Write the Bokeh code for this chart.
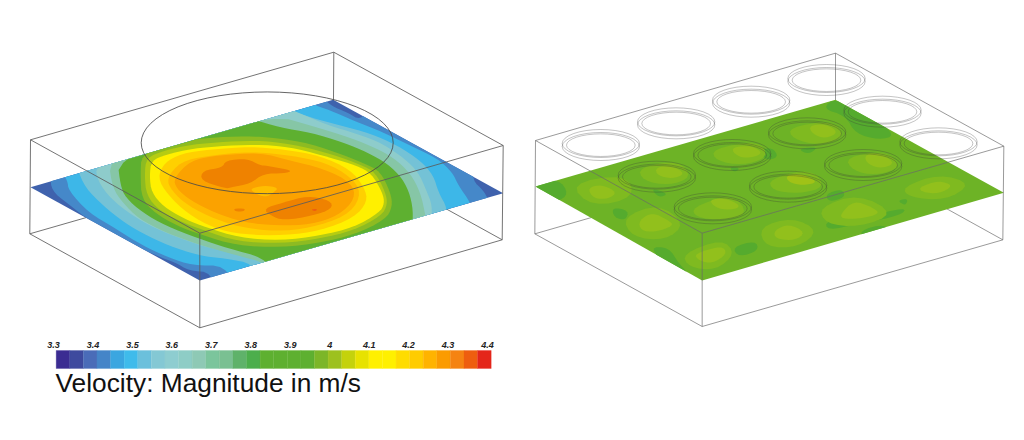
from bokeh.plotting import figure
from bokeh.embed import file_html
from bokeh.resources import INLINE
from bokeh.core.properties import value
from bokeh.models import ColumnDataSource

# ---- colour bar
bar_colors = ["#3b2c92","#3e4a9e","#4a6cb8","#4585c8","#3ba6e0","#3fbbeb","#6bc0dc","#84c8d4",
              "#8ecdd0","#8ecdc6","#8ec9b5","#7bc59c","#7ac092","#5fb26a","#4cae4c","#5eb030",
              "#5eb030","#5eb030","#5eb030","#7cb628","#9dc11f","#c4d20c","#e7e200","#fff000",
              "#fff000","#ffdc00","#ffcc00","#ffb300","#fb9b00","#f58312","#ee5e0f","#e4261a"]
tick_values = [3.3,3.4,3.5,3.6,3.7,3.8,3.9,4.0,4.1,4.2,4.3,4.4]
tick_labels = ["3.3","3.4","3.5","3.6","3.7","3.8","3.9","4","4.1","4.2","4.3","4.4"]
caption = "Velocity: Magnitude in m/s"

# ---- left panel geometry (pixel positions)
L_top = [(30,139.3),(333.3,51.7),(502.7,145),(199.3,232.7),(30,139.3)]
L_vert = [[(30,139.3),(29.3,233.3)],[(502.7,145),(501.7,239.3)],[(199.3,232.7),(199.3,327.3)]]
L_bottom = [(29.3,233.3),(199.3,327.3),(501.7,239.3)]
L_hidden = [[(29.3,233.3),(332.7,146),(501.7,239.3)],[(333.3,51.7),(332.7,146)]]
L_plane = [(332.7,99.3),(30,186.7),(199.3,280),(502.7,192.7)]
L_circle = (266.7,142.3,252,101.7)

# contour loops, outermost to innermost: (colour, points)
L_base = "#3f62ad"
L_loops = [
 ("#4588c9",[(50,175),(51,190),(67,203),(92,222),(122,238),(155,255),(175,262),(188,270),(212,272),(215,300),(500,215),(487,198),(483,190),(472,180),(473,160),(370,105),(360,120),(347,112),(330,105),(320,95),(100,150)]),
 ("#3db7e8",[(60,170),(67,180),(68,190),(88,212),(115,228),(142,245),(168,257),(192,265),(225,265),(235,290),(475,220),(470,202),(458,185),(452,172),(437,158),(410,145),(383,132),(353,120),(330,110),(310,103),(300,95),(100,150)]),
 ("#74c2d6",[(75,160),(82,183),(97,200),(118,218),(142,233),(168,245),(198,255),(225,258),(253,263),(258,285),(445,225),(447,208),(438,192),(433,175),(420,160),(397,145),(370,133),(340,125),(310,117),(285,108),(120,150)]),
 ("#8ecccb",[(95,165),(97,180),(110,198),(132,215),(155,228),(180,238),(210,248),(240,252),(262,258),(268,280),(430,225),(432,205),(425,188),(418,172),(404,158),(382,143),(356,133),(328,125),(300,113),(280,105),(130,150)]),
 ("#86c6a6",[(108,160),(112,187),(122,202),(138,218),(165,232),(198,244),(233,254),(268,263),(275,280),(428,235),(425,215),(420,192),(410,173),(393,157),(370,145),(343,135),(310,125),(275,115),(150,140)]),
 ("#5eb030",[(117,160),(120,185),(125,197),(142,212),(165,225),(198,238),(228,248),(263,257),(275,275),(410,235),(413,215),(410,195),(402,178),(387,163),(367,152),(343,142),(310,132),(280,127),(250,118),(200,120)]),
 ("#8dbb22",[(141,155),(140,173),(141,198),(155,213),(176,225),(200,234),(236,245),(280,247),(321,242),(354,234),(385,219),(392,206),(390,192),(380,171),(364,163),(334,151),(301,141),(263,136),(227,136),(189,139),(161,146)]),
 ("#b5cc12",[(146,157),(144,174),(146,195),(159,210),(180,221),(204,230),(237,241),(280,243),(320,238),(353,230),(381,215),(387,204),(385,192),(375,172),(360,164),(332,154),(299,145),(263,140),(227,141),(191,144),(164,150)]),
 ("#fff000",[(151,160),(149,175),(151,192),(163,206),(183,218),(206,227),(238,237),(280,240),(320,235),(353,227),(379,212),(384,203),(382,192),(371,173),(356,165),(329,157),(297,148),(263,144),(227,145),(192,148),(166,154)]),
 ("#ffd000",[(157,177),(164,162),(181,153),(209,149),(250,146),(284,149),(319,155),(350,169),(364,187),(367,201),(354,217),(320,230),(284,235),(242,234),(214,228),(187,213),(167,194)]),
 ("#ffb900",[(166,178),(180,161),(208,155),(250,151),(291,155),(325,162),(350,176),(361,192),(351,212),(320,225),(284,231),(246,228),(215,219),(187,205),(171,190)]),
 ("#fba200",[(173,178),(190,160),(215,155),(260,152),(289,160),(323,168),(351,182),(355,198),(338,215),(310,224),(278,225),(243,222),(214,212),(190,200),(176,188)]),
]
L_spots = [
 ("#ef8200",[(202,170),(222,167),(225,160),(247,158),(260,165),(265,165),(293,170),(283,173),(263,173),(250,183),(230,187),(225,188),(200,180)]),
 ("#ef8200",[(263,208),(283,202),(307,195),(330,200),(332,208),(313,215),(283,220),(270,215)]),
 ("#ffbe00",[(250,188),(263,185),(278,187),(273,192),(265,197),(253,192)]),
 ("#ef8200",[(233,208),(245,208),(243,211),(235,211)]),
 ("#ee5e0f",[(310,209),(317,208),(315,211)]),
]

# ---- right panel geometry (crop coordinates)
R_top = [(30,270),(930,8),(1435,287),(530,548),(30,270)]
R_vert = [[(30,270),(28,550)],[(1435,287),(1432,568)],[(530,548),(530,828)]]
R_bottom = [(28,550),(530,828),(1432,568)]
R_hidden = [[(28,550),(930,290),(1432,568)],[(930,8),(930,290)]]
R_plane = [(930,148),(30,408),(530,690),(1435,427)]

well_x = [226,394,562,452,620,788,677,845,1013,903,1071,1239]
well_y = [285,380,475,220,315,410,155,250,345,90,185,280]

R_dark = "#55ab2e"
R_mid = "#7fba20"
R_light = "#92c01c"
R_base = "#6db326"
R_patches = [
 (R_dark,[(20,400),(100,385),(130,430),(95,455),(60,440)]),
 (R_dark,[(930,140),(1050,205),(1110,255),(1060,268),(990,250),(960,195),(890,175)]),
 (R_dark,[(370,590),(430,590),(460,640),(510,690),(430,650)]),
 (R_dark,[(375,412),(430,430),(400,442)]),
 (R_dark,[(610,350),(645,352),(628,366)]),
 (R_dark,[(815,295),(880,288),(850,312)]),
 (R_dark,[(1115,450),(1148,444),(1140,466)]),
 (R_dark,[(700,300),(740,290),(760,320),(720,330)]),
 (R_dark,[(900,430),(950,415),(960,440),(910,455)]),
 (R_dark,[(260,470),(310,480),(300,510),(265,500)]),
 (R_dark,[(620,590),(690,570),(700,600),(640,620)]),
 (R_dark,[(1000,540),(1080,520),(1090,550),(1020,570)]),
 (R_dark,[(905,540),(1000,520),(1125,495),(1145,470),(1010,500),(900,510)]),
 (R_mid,[(130,400),(300,370),(330,440),(200,470)]),
 (R_mid,[(290,500),(400,460),(480,520),(420,570),(320,560)]),
 (R_mid,[(880,470),(1000,430),(1110,490),(1000,530),(900,520)]),
 (R_mid,[(700,530),(800,500),(880,540),(820,590),(720,590)]),
 (R_mid,[(1130,410),(1240,370),(1340,400),(1260,450),(1150,440)]),
 (R_mid,[(470,610),(590,565),(630,610),(570,660),(490,650)]),
 (R_mid,[(340,350),(460,330),(500,380),(430,405),(350,390)]),
 (R_mid,[(560,295),(700,270),(730,320),(650,345),(570,330)]),
 (R_mid,[(790,230),(920,210),(960,260),(880,285),(800,265)]),
 (R_mid,[(960,320),(1080,300),(1130,350),(1050,375),(980,360)]),
 (R_mid,[(730,385),(860,355),(900,410),(820,430),(740,420)]),
 (R_mid,[(500,470),(620,430),(670,490),(590,510),(510,500)]),
 (R_light,[(185,412),(230,402),(275,425),(250,445),(205,445)]),
 (R_light,[(340,510),(380,485),(430,510),(445,525),(390,545),(345,540)]),
 (R_light,[(945,490),(985,450),(1040,470),(1065,490),(1000,505),(950,505)]),
 (R_light,[(745,540),(790,520),(840,545),(810,570),(750,565)]),
 (R_light,[(1180,410),(1240,390),(1285,405),(1240,430),(1190,425)]),
 (R_light,[(505,610),(590,585),(605,610),(560,640),(520,630)]),
 (R_light,[(390,350),(440,345),(480,370),(440,385),(395,375)]),
 (R_light,[(620,290),(680,285),(715,310),(660,325),(625,310)]),
 (R_light,[(850,225),(900,220),(940,245),(900,265),(860,250)]),
 (R_light,[(1020,310),(1070,310),(1110,340),(1060,355),(1020,335)]),
 ("#a0c217",[(780,375),(830,370),(880,395),(830,405),(790,395)]),
 (R_light,[(555,445),(610,445),(650,470),(600,480),(560,465)]),
]


def smooth(pts, n=2):
    for _ in range(n):
        out = []
        for i, (x0, y0) in enumerate(pts):
            x1, y1 = pts[(i + 1) % len(pts)]
            out += [(0.75*x0 + 0.25*x1, 0.75*y0 + 0.25*y1), (0.25*x0 + 0.75*x1, 0.25*y0 + 0.75*y1)]
        pts = out
    return pts


def clip(pts, poly):
    # Sutherland-Hodgman against a convex polygon
    area = sum(poly[i][0]*poly[(i+1) % len(poly)][1] - poly[(i+1) % len(poly)][0]*poly[i][1] for i in range(len(poly)))
    sgn = 1 if area > 0 else -1
    for i in range(len(poly)):
        ax, ay = poly[i]
        bx, by = poly[(i + 1) % len(poly)]
        side = lambda p: sgn*((bx-ax)*(p[1]-ay) - (by-ay)*(p[0]-ax))
        res = []
        for j in range(len(pts)):
            c, d = pts[j], pts[(j + 1) % len(pts)]
            sc, sd = side(c), side(d)
            if sc >= 0:
                res.append(c)
            if (sc >= 0) != (sd >= 0):
                t = sc/(sc - sd)
                res.append((c[0] + t*(d[0]-c[0]), c[1] + t*(d[1]-c[1])))
        pts = res
        if not pts:
            break
    return pts


def xy(pts):
    return [x for x, _ in pts], [y for _, y in pts]


def right(pts):
    return [525 + x/3 for x, _ in pts], [50 + y/3 for _, y in pts]


p = figure(width=1008, height=424, x_range=(0, 1008), y_range=(424, 0),
           output_backend="svg", toolbar_location=None, min_border=0)
p.axis.visible = False
p.grid.visible = False
p.outline_line_color = None
p.background_fill_color = "white"
p.border_fill_color = "white"

LINE = dict(line_color="#5c5c5c", line_width=1.0, line_alpha=0.85)
LINE_R = dict(line_color="#6a6a6a", line_width=0.8, line_alpha=0.85)

# left panel
for seg in L_hidden:
    p.line(*xy(seg), **LINE)
p.patch(*xy(L_plane), fill_color=L_base, line_color=None)
for col, pts in L_loops + L_spots:
    c = clip(smooth(pts), L_plane)
    if c:
        p.patch(*xy(c), fill_color=col, line_color=None)
for seg in [L_top, L_bottom] + L_vert:
    p.line(*xy(seg), **LINE)
p.ellipse([L_circle[0]], [L_circle[1]], width=L_circle[2], height=L_circle[3], fill_alpha=0,
          line_color="#4a4a4a", line_width=1.0, line_alpha=0.85)

# right panel
for seg in R_hidden:
    p.line(*right(seg), **LINE_R)
p.patch(*right(R_plane), fill_color=R_base, line_color=None)
for col, pts in R_patches:
    c = clip(smooth(pts), R_plane)
    if c:
        p.patch(*right(c), fill_color=col, line_color=None)
for seg in [R_top, R_bottom] + R_vert:
    p.line(*right(seg), **LINE_R)
wx = [525 + x/3 for x in well_x]
wy = [50 + y/3 for y in well_y]
for dy, w, h in [(-6, 232, 84), (3, 232, 84), (-1, 206, 68)]:
    p.ellipse(wx, [y + dy/3 for y in wy], width=w/3, height=h/3, fill_alpha=0,
              line_color="#3a3a3a", line_width=0.5, line_alpha=0.6)

# colour bar
v0, v1 = tick_values[0], tick_values[-1]
bar_left, bar_right = 55.7, 490.7
step = (v1 - v0)/len(bar_colors)
to_x = lambda v: bar_left + (v - v0)/(v1 - v0)*(bar_right - bar_left)
src = ColumnDataSource(dict(
    left=[to_x(v0 + i*step) for i in range(len(bar_colors))],
    right=[to_x(v0 + (i + 1)*step) for i in range(len(bar_colors))],
    color=bar_colors))
p.quad(left="left", right="right", top=350, bottom=368, fill_color="color", line_color="color",
       line_width=0.3, source=src)

tick_x = [53 + (v - v0)/(v1 - v0)*434 for v in tick_values]
p.text(tick_x, [344]*len(tick_x), text=tick_labels, text_font=value("Liberation Sans"),
       text_font_style="bold italic", text_font_size="9px", text_color="#222222",
       text_align="center", text_baseline="middle")
p.text([55], [382], text=[caption], text_font=value("Liberation Sans"), text_font_size="26.3px",
       text_color="#111111", text_align="left", text_baseline="alphabetic")

open("out.html", "w").write(file_html(p, INLINE))
